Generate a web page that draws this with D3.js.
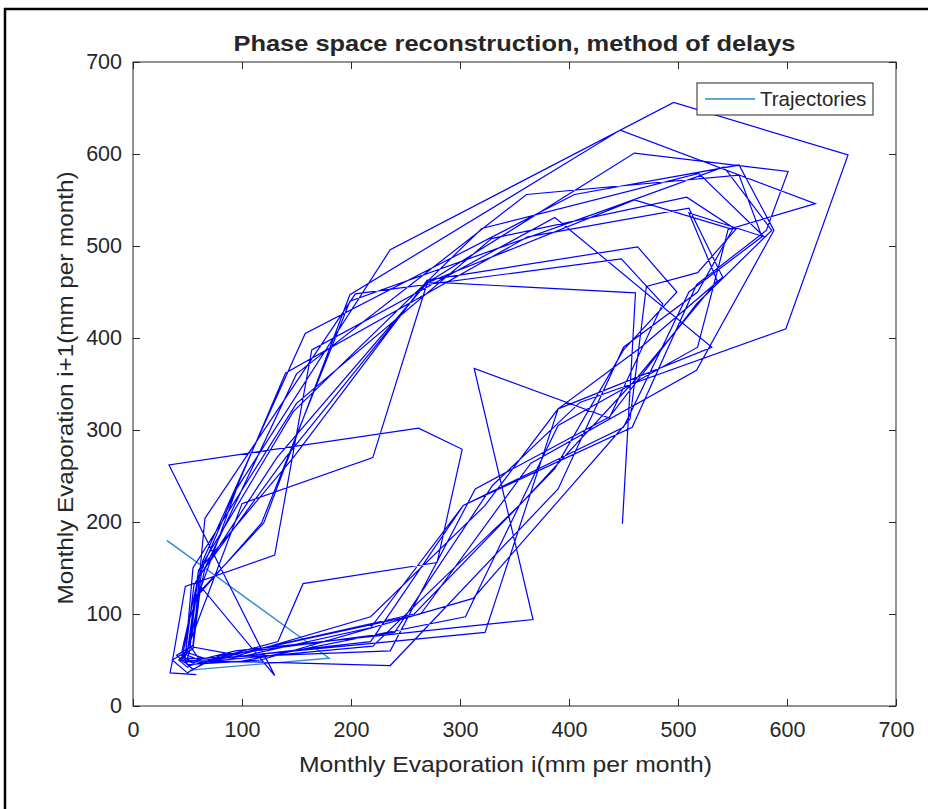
<!DOCTYPE html>
<html>
<head>
<meta charset="utf-8">
<script src="https://cdn.jsdelivr.net/npm/d3@7"></script>
<style>
  body { margin: 0; background: #fff; overflow: hidden; }
  svg { display: block; }
  text { font-family: "Liberation Sans", Arial, Helvetica, sans-serif; fill: #262626; }
</style>
</head>
<body>
<div id="chart-area"></div>
<script>
// monthly evaporation (mm per month), year by year
const year1 = [58, 34, 36, 48, 130, 164, 387, 531, 390, 323, 218, 97];
const year2 = [55, 64, 158, 405, 556, 588, 517, 365, 264, 100, 58, 45];
const year3 = [52, 95, 236, 496, 656, 599, 410, 330, 240, 80, 55, 40];
const year4 = [55, 66, 204, 448, 486, 437, 313, 367, 94, 60, 50, 42];
const year5 = [50, 60, 147, 320, 519, 579, 510, 536, 462, 356, 220, 65];
const year6 = [48, 56, 132, 270, 460, 601, 581, 517, 458, 303, 218, 70];
const year7 = [50, 58, 120, 199, 447, 626, 546, 518, 390, 305, 97, 48];
const year8 = [48, 55, 150, 329, 508, 553, 518, 471, 456, 312, 117, 50];
const year9 = [45, 60, 140, 362, 510, 541, 466, 390, 323, 80, 52, 44];
const year10 = [50, 62, 100, 220, 270, 460, 550, 518, 450, 390, 236, 44];
const year11 = [50, 58, 118, 199, 440, 542, 586, 517, 437, 314, 236, 60];
const year12 = [52, 66, 150, 361, 556, 577, 510, 450, 303, 218, 85, 50];
const year13 = [52, 60, 147, 270, 463, 499, 450, 387, 258, 100, 58, 45];
const year14 = [55, 62, 130, 33, 262, 302, 279, 156, 133, 70, 50, 36];
const year15 = [50, 60, 140, 270, 461, 449, 198];

// the short first line (default colour) shown in the legend
const firstLine = [31, 180, 52, 39];

const xTicks = [0, 100, 200, 300, 400, 500, 600, 700];
const yTicks = [0, 100, 200, 300, 400, 500, 600, 700];

const series = [].concat(year1, year2, year3, year4, year5, year6, year7,
  year8, year9, year10, year11, year12, year13, year14, year15);

// method of delays: point i = (x[i], x[i+1])
const delay = s => d3.range(s.length - 1).map(i => [s[i], s[i + 1]]);

const drawChart = () => {
  const chartSize = { width: 928, height: 809 };
  const margin = { left: 133, top: 62, right: 32, bottom: 103 };
  const width = chartSize.width - margin.left - margin.right;
  const height = chartSize.height - margin.top - margin.bottom;

  const svg = d3.select('#chart-area')
    .append('svg')
    .attr('width', chartSize.width)
    .attr('height', chartSize.height);

  // figure frame (only top/left edges show in the crop)
  svg.append('rect')
    .attr('x', 5).attr('y', 9)
    .attr('width', 960).attr('height', 900)
    .attr('fill', 'none')
    .attr('stroke', '#000')
    .attr('stroke-width', 2.5);

  const g = svg.append('g')
    .attr('transform', `translate(${margin.left},${margin.top})`);

  const x = d3.scaleLinear().domain([0, 700]).range([0, width]);
  const y = d3.scaleLinear().domain([0, 700]).range([height, 0]);

  const line = d3.line().x(d => x(d[0])).y(d => y(d[1]));

  g.append('path')
    .datum(delay(firstLine))
    .attr('d', line)
    .attr('fill', 'none')
    .attr('stroke', '#2a8cc8')
    .attr('stroke-width', 1.3);

  g.append('path')
    .datum(delay(series))
    .attr('d', line)
    .attr('fill', 'none')
    .attr('stroke', '#0000ff')
    .attr('stroke-width', 1.2)
    .attr('stroke-linejoin', 'miter');

  // axes, ticks inside, box on
  const tickLen = 7;
  const axisStyle = sel => {
    sel.select('.domain').remove();
    sel.selectAll('line').attr('stroke', '#262626');
    sel.selectAll('text').style('font-size', '21.5px').attr('fill', '#262626');
  };

  g.append('g').attr('class', 'x-axis')
    .attr('transform', `translate(0,${height})`)
    .call(d3.axisBottom(x).tickValues(xTicks).tickSizeInner(-tickLen).tickSizeOuter(0).tickPadding(16))
    .call(axisStyle);
  g.append('g').attr('class', 'x-axis-top')
    .call(d3.axisTop(x).tickValues(xTicks).tickSizeInner(-tickLen).tickSizeOuter(0).tickFormat(''))
    .call(axisStyle);
  g.append('g').attr('class', 'y-axis')
    .call(d3.axisLeft(y).tickValues(yTicks).tickSizeInner(-tickLen).tickSizeOuter(0).tickPadding(11))
    .call(axisStyle);
  g.append('g').attr('class', 'y-axis-right')
    .attr('transform', `translate(${width},0)`)
    .call(d3.axisRight(y).tickValues(yTicks).tickSizeInner(-tickLen).tickSizeOuter(0).tickFormat(''))
    .call(axisStyle);

  g.append('rect')
    .attr('width', width).attr('height', height)
    .attr('fill', 'none')
    .attr('stroke', '#262626')
    .attr('stroke-width', 1);

  // title and labels
  g.append('text')
    .attr('x', width / 2).attr('y', -11)
    .attr('text-anchor', 'middle')
    .attr('textLength', 562)
    .attr('lengthAdjust', 'spacingAndGlyphs')
    .style('font-size', '22px')
    .style('font-weight', 'bold')
    .attr('fill', '#000')
    .text('Phase space reconstruction, method of delays');

  g.append('text')
    .attr('x', width / 2 - 9).attr('y', height + 66)
    .attr('text-anchor', 'middle')
    .attr('textLength', 413)
    .attr('lengthAdjust', 'spacingAndGlyphs')
    .style('font-size', '22px')
    .text('Monthly Evaporation i(mm per month)');

  g.append('text')
    .attr('transform', 'rotate(-90)')
    .attr('x', -326).attr('y', -60)
    .attr('text-anchor', 'middle')
    .attr('textLength', 433)
    .attr('lengthAdjust', 'spacingAndGlyphs')
    .style('font-size', '22px')
    .text('Monthly Evaporation i+1(mm per month)');

  // legend
  const legend = g.append('g').attr('transform', `translate(${width - 199},21)`);
  legend.append('rect')
    .attr('width', 176).attr('height', 32)
    .attr('fill', '#fff')
    .attr('stroke', '#262626')
    .attr('stroke-width', 1);
  legend.append('line')
    .attr('x1', 8).attr('x2', 58).attr('y1', 16).attr('y2', 16)
    .attr('stroke', '#2a8cc8').attr('stroke-width', 1.3);
  legend.append('text')
    .attr('x', 63).attr('y', 23)
    .style('font-size', '20.5px')
    .text('Trajectories');
};

window.onload = drawChart;
</script>
</body>
</html>
